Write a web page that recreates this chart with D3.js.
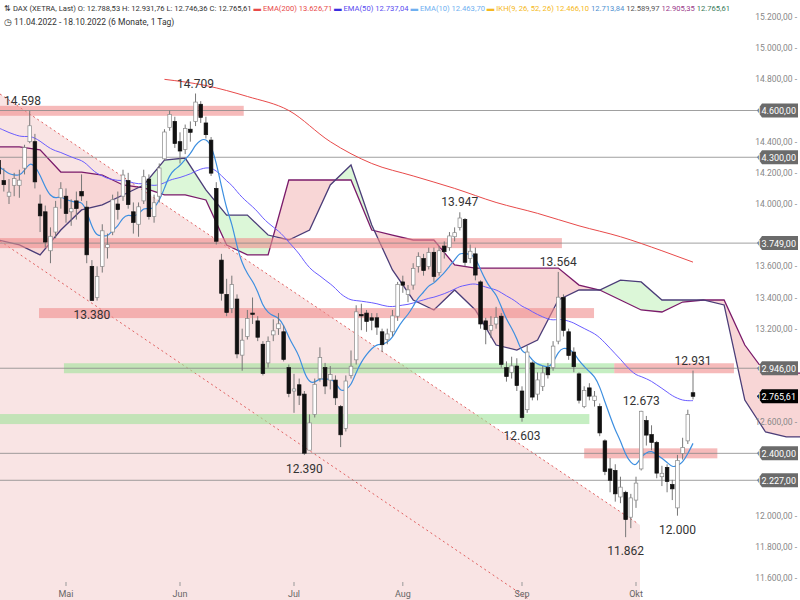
<!DOCTYPE html>
<html><head><meta charset="utf-8">
<script src="https://cdn.jsdelivr.net/npm/d3@7/dist/d3.min.js"></script>
<style>body{margin:0;background:#fff}svg{display:block;font-family:Roboto,"Liberation Sans",Arial,sans-serif}</style>
</head><body><svg id="c" width="800" height="600"></svg>
<script>
const opens=[14280,14150,14050,14120,14120,14230,14400,14400,14000,13950,13700,13820,14040,14050,13950,14020,14080,13980,13600,13400,13600,13720,13820,14000,14050,14150,13950,13870,14020,14160,13920,14050,14290,14490,14530,14400,14350,14480,14530,14640,14520,14410,14100,13640,13420,13330,13390,13030,13150,13300,13250,13100,12980,13160,13200,13180,12950,12800,12840,12780,12420,12650,12880,12950,12870,12870,12700,12560,12900,13000,13290,13300,13270,13270,13180,13130,13180,13280,13500,13420,13480,13600,13650,13600,13690,13560,13730,13720,13790,13850,13900,13650,13680,13500,13250,13190,13230,13280,12950,12920,12960,12800,12680,12980,12780,12830,12950,12950,13120,13400,13180,13050,12910,12700,12820,12740,12700,12480,12300,12290,12120,12150,11990,12100,12300,12610,12520,12470,12250,12310,12200,12050,12400,12480,12789];
const highs=[14300,14230,14160,14200,14220,14380,14598,14450,14060,13990,13850,14020,14140,14100,14030,14080,14190,14020,13640,13600,13870,13810,14060,14080,14220,14200,14010,14010,14220,14190,14060,14260,14480,14600,14560,14460,14510,14530,14709,14660,14560,14430,14140,13680,13520,13540,13420,13200,13320,13400,13280,13120,13150,13260,13300,13220,12970,12910,12880,12800,12650,12880,13080,12980,12960,12900,12710,12900,13060,13350,13360,13320,13300,13300,13200,13200,13320,13500,13540,13480,13620,13690,13680,13720,13720,13730,13760,13820,13850,13947,13910,13740,13720,13510,13270,13280,13340,13300,12990,13020,13010,12830,13090,12990,12920,12960,12980,13120,13564,13420,13200,13080,12920,12830,12850,12800,12720,12490,12370,12330,12250,12160,12140,12250,12673,12640,12580,12480,12320,12330,12230,12390,12500,12680,12931];
const lows=[14130,14080,14000,14050,14040,14190,14390,14100,13820,13720,13620,13780,13970,13880,13860,13900,14020,13620,13380,13380,13560,13650,13800,13900,14020,13970,13810,13790,14000,13900,13880,14010,14280,14470,14360,14260,14320,14400,14500,14520,14420,14180,13740,13380,13280,13300,13010,12930,13130,13230,13120,12900,12950,13120,13160,12990,12760,12660,12710,12390,12420,12630,12860,12780,12810,12710,12440,12540,12880,12970,13190,13180,13190,13160,13050,13100,13150,13250,13430,13370,13450,13560,13540,13580,13500,13540,13650,13700,13760,13830,13600,13620,13510,13200,13100,13140,13200,12950,12860,12880,12800,12603,12660,12740,12740,12800,12880,12930,13100,13150,13000,12920,12720,12690,12740,12700,12510,12260,12150,12090,12080,11862,11920,12050,12290,12450,12420,12240,12190,12150,12100,12000,12360,12460,12746];
const closes=[14193,14124,14076,14163,14153,14362,14502,14142,13924,13756,13793,13979,14098,13939,13970,13971,14052,13674,13381,13535,13828,13739,14027,13964,14186,13996,13882,13982,14175,13919,14008,14231,14462,14575,14388,14340,14485,14460,14654,14556,14445,14198,13761,13427,13304,13483,13038,13126,13265,13292,13145,12912,13118,13186,13231,13003,12784,12813,12773,12401,12595,12843,13015,12832,12905,12756,12519,12864,12959,13308,13282,13246,13254,13210,13097,13166,13282,13484,13479,13449,13587,13662,13573,13688,13535,13700,13694,13795,13816,13910,13626,13697,13544,13230,13194,13220,13271,12971,12893,12961,12835,12630,13050,12761,12871,12916,12904,13088,13402,13189,13028,12956,12741,12803,12767,12767,12531,12284,12227,12140,12183,11975,12114,12209,12670,12517,12470,12273,12272,12219,12172,12355,12438,12649,12766];
const monthLabels=["Mai","Jun","Jul","Aug","Sep","Okt"];
const monthIdx=[13,35,57,78,101,123];
const ema200Idx=[32,40,48,56,64,72,80,88,96,104,112,120,128,134];
const ema200=[14800,14760,14690,14600,14400,14260,14180,14100,14010,13940,13860,13790,13700,13627];
const cloudIdx=d3.range(0,157,4);
const spanA=[13769,13737,13673,13833,13962,13994,14058,14122,14282,14295,14090,13929,13929,13801,13769,13833,14122,14250,13865,13577,13384,13320,13448,13320,13095,13063,13127,13384,13448,13448,13512,13500,13384,13384,13384,13352,12742,12537,12505,12505];
const spanB=[14366,14366,14347,14205,14205,14186,14122,14103,14058,14058,14026,13737,13673,13673,14154,14154,14154,14154,13833,13801,13769,13769,13609,13589,13589,13589,13589,13589,13480,13448,13384,13320,13307,13371,13384,13384,13095,12915,12915,12915];
const levels=[14600,14300,13749,12946,12400,12227];
const bandP=[14598,13749,13300,12946,12620,12400,12946];
const bandI0=[0,0,7.8,12.6,0,113,118.8];
const bandI1=[47.3,108.7,114.9,118.8,114,138.7,141.9];
const bandC=["red","red","red","green","green","red","red"];
const notes=[["14.598",0,6],["14.709",0,38],["13.380",1,18],["13.947",0,89],["13.564",0,108],["12.931",0,134],["12.673",0,124],["12.603",1,101],["12.390",1,59],["12.000",1,131],["11.862",1,121]];

const svg=d3.select("#c");
const W=757;
const y=d3.scaleLinear().domain([11600,15200]).range([578,17]);
const x=d3.scaleLinear().domain([13,134]).range([66,693]);
const loc=d3.formatLocale({decimal:",",thousands:".",grouping:[3],currency:["",""]});
const f2=loc.format(",.2f");
const g=svg.append("g");
// channel
g.append("path").attr("d",`M0,94L637,523L640,525L640,600L0,600Z`).attr("fill","#f9e4e4");
g.append("path").attr("d",`M0,94L637,523`).attr("stroke","#e06060").attr("stroke-dasharray","2,3").attr("fill","none");
g.append("path").attr("d",`M0,241L530,600`).attr("stroke","#e06060").attr("stroke-dasharray","2,3").attr("fill","none");
// cloud
const cd=cloudIdx.map((d,i)=>({i:d,a:spanA[i],b:spanB[i]}));
const areaAB=d3.area().x(d=>x(d.i)).y0(d=>y(d.a)).y1(d=>y(d.b));
const defs=svg.append("defs");
defs.append("clipPath").attr("id","up").append("path").attr("d",d3.area().x(d=>x(d.i)).y0(0).y1(d=>y(d.b))(cd));
defs.append("clipPath").attr("id","dn").append("path").attr("d",d3.area().x(d=>x(d.i)).y0(600).y1(d=>y(d.b))(cd));
const cg=g.append("g");
cg.append("path").attr("d",areaAB(cd)).attr("fill","#dcf7d8").attr("clip-path","url(#up)");
cg.append("path").attr("d",areaAB(cd)).attr("fill","#f8d6d6").attr("clip-path","url(#dn)");
const ln=d3.line().x(d=>x(d.i));
cg.append("path").attr("d",ln.y(d=>y(d.b))(cd)).attr("stroke","#7a1a6a").attr("stroke-width",1.3).attr("fill","none");
cg.append("path").attr("d",ln.y(d=>y(d.a))(cd)).attr("stroke","#4b3d78").attr("stroke-width",1.3).attr("fill","none");
// bands
bandP.forEach((p,k)=>g.append("rect").attr("x",x(bandI0[k])).attr("width",x(bandI1[k])-x(bandI0[k])).attr("y",y(p)-5).attr("height",10)
 .attr("fill",bandC[k]=="red"?"#f08c8c":"#9fe39a").attr("opacity",0.6));
levels.forEach(p=>g.append("line").attr("x1",0).attr("x2",W).attr("y1",y(p)).attr("y2",y(p)).attr("stroke","#888").attr("stroke-width",0.8));
g.append("path").attr("d",d3.line().x(d=>x(d[0])).y(d=>y(d[1])).curve(d3.curveMonotoneX)(ema200Idx.map((d,i)=>[d,ema200[i]])))
 .attr("stroke","#e84a4a").attr("fill","none").attr("stroke-width",1);
function ema(n,seed){let e=seed;return closes.map(c=>(e=e+(c-e)*2/(n+1)));}
const e50=ema(50,14500), e10=ema(10,14250);
g.append("path").attr("d",d3.line().x((d,i)=>x(i)).y(d=>y(d)).curve(d3.curveBasis)(e50)).attr("stroke","#6a5cff").attr("fill","none").attr("stroke-width",1);
g.append("path").attr("d",d3.line().x((d,i)=>x(i)).y(d=>y(d)).curve(d3.curveBasis)(e10)).attr("stroke","#3d8fe0").attr("fill","none").attr("stroke-width",1.2);
const cw=3.6;
closes.forEach((c,i)=>{const o=opens[i],up=c>=o,cx=x(i);
 g.append("line").attr("x1",cx).attr("x2",cx).attr("y1",y(highs[i])).attr("y2",y(lows[i])).attr("stroke","#777").attr("stroke-width",1);
 g.append("rect").attr("x",cx-cw/2).attr("width",cw).attr("y",y(Math.max(o,c))).attr("height",Math.max(1,Math.abs(y(o)-y(c))))
  .attr("fill",up?"#fff":"#111").attr("stroke",up?"#888":"#111").attr("stroke-width",0.7);});
notes.forEach(([t,below,i],k)=>{const v=below?lows[i]:highs[i];
 g.append("text").attr("x",k==0?4:x(i)).attr("y",below?y(v)+18:y(v)-6).attr("text-anchor",k==0?"start":"middle").attr("font-size",12).attr("fill","#333").text(t);});
const lastP=12765.61;
const tagPs=levels.concat([lastP]);
d3.range(11600,15201,200).forEach(p=>{if(tagPs.some(q=>Math.abs(y(q)-y(p))<11))return;
 svg.append("text").attr("x",797).attr("y",y(p)+3).attr("text-anchor","end").attr("font-size",8.5).attr("fill","#888").text(f2(p)+" -");});
function tag(p,fill,txt){const yy=y(p);
 svg.append("path").attr("d",`M757,${yy}L762,${yy-7}L798,${yy-7}L798,${yy+7}L762,${yy+7}Z`).attr("fill",fill);
 svg.append("text").attr("x",796).attr("y",yy+3.5).attr("text-anchor","end").attr("font-size",9).attr("fill","#fff").text(txt);}
levels.forEach(p=>tag(p,"#6b6b6b",f2(p)));
tag(lastP,"#000",f2(lastP));
monthLabels.forEach((m,k)=>{svg.append("line").attr("x1",x(monthIdx[k])).attr("x2",x(monthIdx[k])).attr("y1",582).attr("y2",586).attr("stroke","#999");
 svg.append("text").attr("x",x(monthIdx[k])).attr("y",597).attr("text-anchor","middle").attr("font-size",9).attr("fill","#666").text(m);});
const h=svg.append("text").attr("x",4).attr("y",11).attr("font-size",7.6);
[["⇅ DAX (XETRA, Last)  O: 12.788,53  H: 12.931,76  L: 12.746,36  C: 12.765,61  ","#333"],["▬ ","#e84a4a"],["EMA(200) 13.626,71  ","#e84a4a"],["▬ ","#3a2ee0"],["EMA(50) 12.737,04  ","#5a4cf0"],["▬ ","#6fb0f0"],["EMA(10) 12.463,70  ","#6fb0f0"],["▬ ","#f5b820"],["IKH(9, 26, 52, 26) 12.466,10  ","#f5b820"],["12.713,84  ","#4f8fd0"],["12.589,97  ","#555"],["12.905,35  ","#9a3a8a"],["12.765,61","#3a7a5a"]]
 .forEach(([t,c])=>h.append("tspan").attr("fill",c).text(t));
svg.append("text").attr("x",4).attr("y",25).attr("font-size",8.5).attr("fill","#333").text("◷ 11.04.2022 - 18.10.2022  (6 Monate, 1 Tag)");
</script></body></html>
